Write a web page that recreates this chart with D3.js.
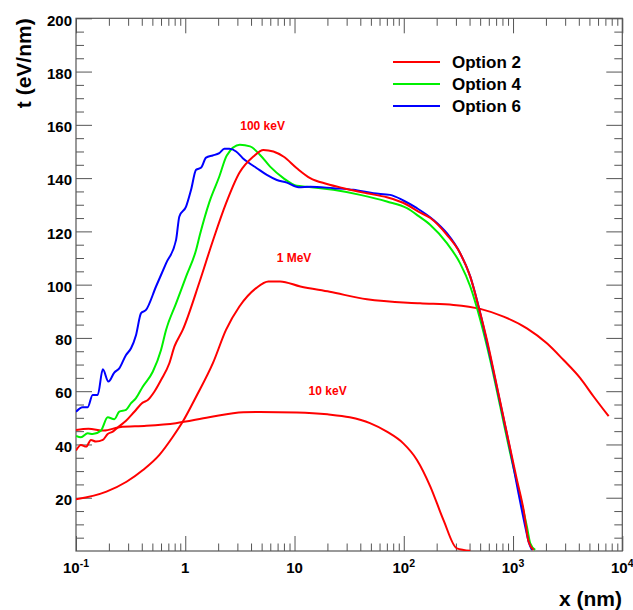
<!DOCTYPE html>
<html>
<head>
<meta charset="utf-8">
<script src="https://cdn.jsdelivr.net/npm/d3@7"></script>
<style>
  body { margin: 0; background: #fff; }
  text { font-family: "Liberation Sans", Arial, Helvetica, sans-serif; font-weight: bold; }
</style>
</head>
<body>
<svg id="drawing_region"></svg>
<script>
// ---- data ----
// 10 keV, Option 2
const x10keV = [0.1, 0.13, 0.18, 0.25, 0.44, 0.82, 1.65, 3.4, 4.8, 10.5, 20, 32, 49, 70, 99, 132, 175, 231, 306, 406];
const y10keV = [45.4, 45.9, 45.2, 46.5, 47.0, 48.0, 50.2, 52.1, 52.2, 52.0, 51.3, 50.2, 48.0, 44.8, 40.4, 34.2, 24.2, 11.6, 1.0, 0.1];

// 1 MeV, Option 2
const x1MeV = [0.1, 0.19, 0.29, 0.41, 0.58, 0.77, 0.95, 1.26, 1.79, 2.36, 3.13, 4.45, 5.77, 7.38, 11.3, 21, 46, 141, 285, 501, 819, 1340, 2040, 2900, 4120, 5460, 7500];
const y1MeV = [19.4, 22.3, 26.0, 30.4, 36.1, 42.9, 48.6, 58.0, 70.5, 83, 91.8, 98.7, 101.2, 101.2, 99.3, 97.3, 94.5, 93.0, 92.4, 90.9, 88, 83.6, 78, 71.7, 64.9, 58, 50.6];

// 100 keV, Option 2
const xOpt2 = [0.1, 0.111, 0.124, 0.137, 0.152, 0.176, 0.195, 0.217, 0.241, 0.287, 0.342, 0.408, 0.454, 0.521, 0.600, 0.715, 0.795, 0.948, 1.35, 1.79, 2.36, 3.13, 4.2, 5.19, 6.41, 7.91, 10.5, 13.9, 19.8, 28.1, 45.9, 70, 107, 136, 175, 248, 328, 406, 483, 577, 713, 879, 1086, 1250, 1388, 1541];
const yOpt2 = [37.7, 39.8, 39.2, 41.7, 41.1, 41.7, 43.9, 44.8, 46.4, 48.9, 52.3, 55.7, 56.7, 59.8, 64.2, 70.5, 76.7, 83, 101, 116.5, 130.5, 142, 148.1, 150.6, 150, 148.1, 143.7, 140, 137.8, 136.2, 134.3, 132.8, 130, 127.4, 125, 118.7, 111.8, 103, 91.8, 79.2, 61.7, 44.2, 26.7, 15.4, 3.5, 0.4];

// 100 keV, Option 4
const xOpt4 = [0.1, 0.111, 0.128, 0.142, 0.169, 0.195, 0.224, 0.249, 0.287, 0.319, 0.354, 0.408, 0.504, 0.600, 0.667, 0.824, 1.017, 1.256, 1.367, 1.662, 2.05, 2.4, 3.16, 3.92, 4.84, 5.98, 7.91, 10.5, 12.97, 22.7, 39.9, 70, 107, 136, 175, 248, 328, 406, 501, 618, 764, 942, 1164, 1340, 1438, 1596];
const yOpt4 = [43.2, 42.7, 44.2, 43.9, 45.2, 50.2, 49.5, 52.3, 53, 55.5, 57.4, 61.7, 67.3, 75.5, 83, 93, 103, 113, 119, 131, 140.6, 148.5, 152.5, 151.9, 148.7, 144.3, 140, 137.1, 136.8, 135.6, 133.7, 131.2, 128.7, 125.8, 122.4, 115.6, 108, 99.3, 86.8, 71.7, 54.2, 36.7, 20.4, 9.1, 2.9, 0.4];

// 100 keV, Option 6
const xOpt6 = [0.1, 0.115, 0.128, 0.142, 0.158, 0.176, 0.198, 0.224, 0.249, 0.287, 0.319, 0.354, 0.394, 0.437, 0.540, 0.667, 0.824, 0.883, 1.017, 1.13, 1.256, 1.40, 1.55, 1.785, 2.05, 2.28, 2.53, 2.92, 3.36, 3.86, 4.45, 5.58, 6.89, 8.5, 10.9, 13.9, 22.7, 34.6, 52.8, 75, 99, 132, 187, 248, 328, 406, 501, 618, 764, 942, 1122, 1294, 1388, 1490];
const yOpt6 = [52.3, 54, 54, 58.6, 58.6, 68.2, 63.6, 67, 68.6, 73.6, 76.1, 81, 89.3, 90.5, 99.3, 108, 116.8, 125.6, 129.3, 135.6, 143.1, 144, 147.7, 148.5, 149.4, 151, 151, 150, 147.5, 145.6, 143.9, 141.2, 139.3, 138.3, 136.6, 136.8, 136.2, 135.6, 134.3, 133.7, 131.6, 128.7, 124.3, 119.3, 111.8, 103, 89.3, 73, 55.5, 37.9, 21.7, 9.1, 3.5, 0.4];

const legendNames = ["Option 2", "Option 4", "Option 6"];
const legendColors = ["#ff0000", "#00f000", "#0000ff"];

const xTickVals = [0.1, 1, 10, 100, 1000, 10000];
const xTickLabels = ["10^-1", "1", "10", "10^2", "10^3", "10^4"];
const yTickVals = [20, 40, 60, 80, 100, 120, 140, 160, 180, 200];

const notes = [
    {text: "100 keV", x: 5.1, y: 158},
    {text: "1 MeV", x: 9.9, y: 108.5},
    {text: "10 keV", x: 20.1, y: 58.6}
];

// ---- chart ----
const width = 633, height = 610;
const margin = {top: 18.3, right: 10.7, bottom: 59, left: 76};

const svg = d3.select('#drawing_region')
    .attr('width', width)
    .attr('height', height);

const innerW = width - margin.left - margin.right;
const innerH = height - margin.top - margin.bottom;

const chart = svg.append('g')
    .attr('transform', `translate(${margin.left}, ${margin.top})`);

const xscale = d3.scaleLog().domain([0.1, 10000]).range([0, innerW]);
const yscale = d3.scaleLinear().domain([0, 200]).range([innerH, 0]);

// minor ticks
const xMinor = [];
for (let e = -1; e < 4; e++) {
    for (let k = 2; k <= 9; k++) xMinor.push(k * Math.pow(10, e));
}
const yMinor = d3.range(0, 201, 5).filter(v => v % 20 !== 0);

const axisColor = '#555';

function drawAxis(axis, tr) {
    const g = chart.append('g').attr('transform', tr).call(axis);
    g.select('.domain').remove();
    g.selectAll('line').attr('stroke', axisColor).attr('stroke-width', 1);
    return g;
}

// bottom & top
drawAxis(d3.axisBottom(xscale).tickValues(xTickVals).tickSize(-15).tickFormat(''), `translate(0, ${innerH})`);
drawAxis(d3.axisBottom(xscale).tickValues(xMinor).tickSize(-7.5).tickFormat(''), `translate(0, ${innerH})`);
drawAxis(d3.axisTop(xscale).tickValues(xTickVals).tickSize(-15).tickFormat(''), 'translate(0,0)');
drawAxis(d3.axisTop(xscale).tickValues(xMinor).tickSize(-7.5).tickFormat(''), 'translate(0,0)');

// left & right
const yAx = drawAxis(d3.axisLeft(yscale).tickValues(yTickVals).tickSize(-16).tickPadding(4), 'translate(0,0)');
yAx.selectAll('text')
    .attr('font-size', 15)
    .attr('fill', '#000')
    .attr('dy', '0.45em')
    .style('font-family', '"Liberation Sans", Arial, sans-serif')
    .style('font-weight', 'bold');
drawAxis(d3.axisLeft(yscale).tickValues(yMinor).tickSize(-8).tickFormat(''), 'translate(0,0)');
drawAxis(d3.axisRight(yscale).tickValues(yTickVals).tickSize(-16).tickFormat(''), `translate(${innerW},0)`);
drawAxis(d3.axisRight(yscale).tickValues(yMinor).tickSize(-8).tickFormat(''), `translate(${innerW},0)`);

// frame
chart.append('rect')
    .attr('width', innerW)
    .attr('height', innerH)
    .attr('fill', 'none')
    .attr('stroke', axisColor)
    .attr('stroke-width', 1.2);

// x tick labels with superscripts
xTickVals.forEach((v, i) => {
    const parts = xTickLabels[i].split('^');
    const t = chart.append('text')
        .attr('x', xscale(v))
        .attr('y', innerH + 22)
        .attr('text-anchor', 'middle')
        .attr('font-size', 15)
        .text(parts[0]);
    if (parts[1]) {
        t.append('tspan')
            .attr('dy', -6)
            .attr('font-size', 10.5)
            .text(parts[1]);
    }
});

// axis titles
svg.append('text')
    .attr('x', 622)
    .attr('y', 606)
    .attr('text-anchor', 'end')
    .attr('font-size', 21)
    .text('x (nm)');

svg.append('text')
    .attr('transform', 'translate(31, 18.3) rotate(-90)')
    .attr('text-anchor', 'end')
    .attr('font-size', 21)
    .text('t (eV/nm)');

// curves
chart.append('clipPath').attr('id', 'clip')
    .append('rect').attr('width', innerW).attr('height', innerH);

const line = d3.line()
    .x(d => xscale(d[0]))
    .y(d => yscale(d[1]))
    .curve(d3.curveMonotoneX);

const series = [
    {xs: x10keV, ys: y10keV, color: legendColors[0]},
    {xs: x1MeV, ys: y1MeV, color: legendColors[0]},
    {xs: xOpt4, ys: yOpt4, color: legendColors[1]},
    {xs: xOpt6, ys: yOpt6, color: legendColors[2]},
    {xs: xOpt2, ys: yOpt2, color: legendColors[0]}
];

const plot = chart.append('g').attr('clip-path', 'url(#clip)');
series.forEach(s => {
    plot.append('path')
        .datum(s.xs.map((x, i) => [x, s.ys[i]]))
        .attr('d', line)
        .attr('fill', 'none')
        .attr('stroke', s.color)
        .attr('stroke-width', 2)
        .attr('stroke-linejoin', 'round');
});

// energy notes
notes.forEach(n => {
    chart.append('text')
        .attr('x', xscale(n.x))
        .attr('y', yscale(n.y))
        .attr('text-anchor', 'middle')
        .attr('font-size', 12)
        .attr('fill', '#ff0000')
        .text(n.text);
});

// legend
const legend = svg.append('g').attr('transform', 'translate(393, 62)');
legendNames.forEach((name, i) => {
    legend.append('line')
        .attr('x1', 0).attr('x2', 47)
        .attr('y1', i * 22).attr('y2', i * 22)
        .attr('stroke', legendColors[i])
        .attr('stroke-width', 2);
    legend.append('text')
        .attr('x', 59)
        .attr('y', i * 22 + 6)
        .attr('font-size', 17)
        .text(name);
});
</script>
</body>
</html>
